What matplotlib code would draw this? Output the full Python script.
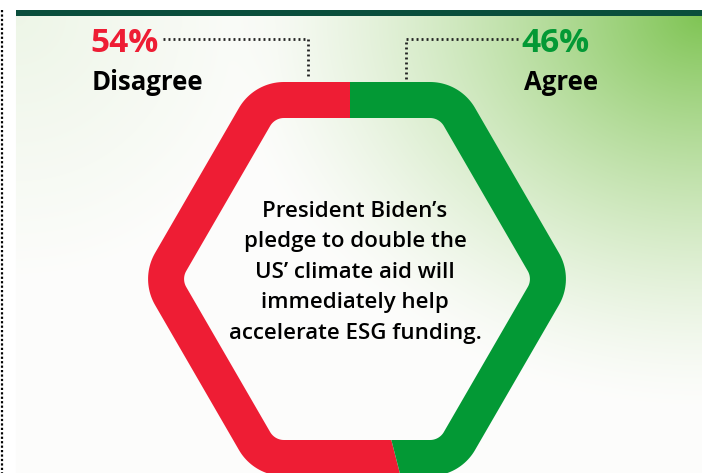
import numpy as np
import matplotlib.pyplot as plt
from matplotlib.path import Path
from matplotlib.patches import PathPatch, Polygon

labels = ['Disagree', 'Agree']
shares = [54, 46]
colors = ['#EE1D34', '#039935']
statement = ["President Biden\u2019s", 'pledge to double the', 'US\u2019 climate aid will',
             'immediately help', 'accelerate ESG funding.']

W, H = 702, 473
fig = plt.figure(figsize=(W / 100, H / 100), dpi=100)
ax = fig.add_axes([0, 0, 1, 1])
ax.set_xlim(0, W)
ax.set_ylim(H, 0)
ax.axis('off')

# background gradient (white -> green at top right)
yy, xx = np.mgrid[0:H, 0:W]
d = np.hypot((xx - W) * 0.9, (yy - 16) * 1.1)
t = np.clip(1 - d / 430, 0, 1) ** 1.4
d2 = np.hypot(xx - 16, yy - 16)
t2 = np.clip(1 - d2 / 260, 0, 1) * 0.12
t = np.clip(t + t2, 0, 1)
white = np.array([0.99, 0.99, 0.985])
green = np.array([0.50, 0.77, 0.33])
img = white[None, None, :] * (1 - t[..., None]) + green[None, None, :] * t[..., None]
img[:, :16] = 1.0
img[:16, :] = 1.0
ax.imshow(img, extent=(0, W, H, 0), zorder=0, interpolation='bilinear')

# top bar and left dotted border
ax.fill_between([16, W], 10, 16, color='#0A4E3C', zorder=1, lw=0)
ax.plot([1.5, 1.5], [10, H], color='black', lw=1.6, ls=(0, (1, 1)), zorder=1)


def offset_lines(pts, dist):
    n = len(pts)
    out = []
    lines = []
    for i in range(n):
        p, q = pts[i], pts[(i + 1) % n]
        e = q - p
        e = e / np.hypot(*e)
        nrm = np.array([e[1], -e[0]])
        lines.append((p + nrm * dist, e))
    for i in range(n):
        (p1, e1), (p2, e2) = lines[i - 1], lines[i]
        A = np.array([e1, -e2]).T
        s = np.linalg.solve(A, p2 - p1)
        out.append(p1 + e1 * s[0])
    return np.array(out)


def rounded(core, r, k=24):
    n = len(core)
    pts = []
    for i in range(n):
        a, b, c = core[i - 1], core[i], core[(i + 1) % n]
        e1 = b - a
        e2 = c - b
        n1 = np.array([e1[1], -e1[0]]) / np.hypot(*e1)
        n2 = np.array([e2[1], -e2[0]]) / np.hypot(*e2)
        a1 = np.arctan2(n1[1], n1[0])
        a2 = np.arctan2(n2[1], n2[0])
        if a2 < a1:
            a2 += 2 * np.pi
        ang = np.linspace(a1, a2, k)
        pts.extend(b + r * np.c_[np.cos(ang), np.sin(ang)])
    return np.array(pts)


hexo = np.array([[254, 82], [460, 82], [574, 279], [460, 476], [254, 476], [140, 279]], float)
R_out, band = 52, 36
core = offset_lines(hexo, -R_out)
outer = rounded(core, R_out)
inner = rounded(core, R_out - band)[::-1]
verts = np.vstack([outer, outer[:1], inner, inner[:1]])
codes = ([Path.MOVETO] + [Path.LINETO] * (len(outer) - 1) + [Path.CLOSEPOLY]
         + [Path.MOVETO] + [Path.LINETO] * (len(inner) - 1) + [Path.CLOSEPOLY])
ring = Path(verts, codes)

cx, cy = 350, 279
start = 90.0
for share, col in zip(shares, colors):
    end = start + share / sum(shares) * 360
    ang = np.radians(np.linspace(start, end, 100))
    wedge = np.vstack([[cx, cy], np.c_[cx + 900 * np.cos(ang), cy - 900 * np.sin(ang)]])
    clip = Polygon(wedge, closed=True, transform=ax.transData)
    pp = PathPatch(ring, facecolor=col, edgecolor='none', zorder=2)
    ax.add_patch(pp)
    pp.set_clip_path(clip)
    start = end

# labels with dotted leaders
fam = ['Open Sans', 'DejaVu Sans']
ax.text(90, 43, f'{shares[0]}%', color=colors[0], fontsize=24, fontweight='bold',
        family=fam, ha='left', va='center', zorder=3)
ax.text(92, 83, labels[0], color='black', fontsize=18.5, fontweight='bold',
        family=fam, ha='left', va='center', zorder=3)
ax.text(521, 43, f'{shares[1]}%', color=colors[1], fontsize=24, fontweight='bold',
        family=fam, ha='left', va='center', zorder=3)
ax.text(524, 83, labels[1], color='black', fontsize=18.5, fontweight='bold',
        family=fam, ha='left', va='center', zorder=3)
dot = dict(color='#222222', lw=2.0, ls=(0, (0.7, 1.1)), zorder=3)
ax.plot([163, 308, 308], [39, 39, 79], **dot)
ax.plot([518, 406, 406], [39, 39, 79], **dot)

for i, line in enumerate(statement):
    ax.text(355, 211 + i * 30.5, line, color='black', fontsize=16, fontweight='semibold',
            family=fam, ha='center', va='center', zorder=3)

fig.savefig('out.png', dpi=100)
